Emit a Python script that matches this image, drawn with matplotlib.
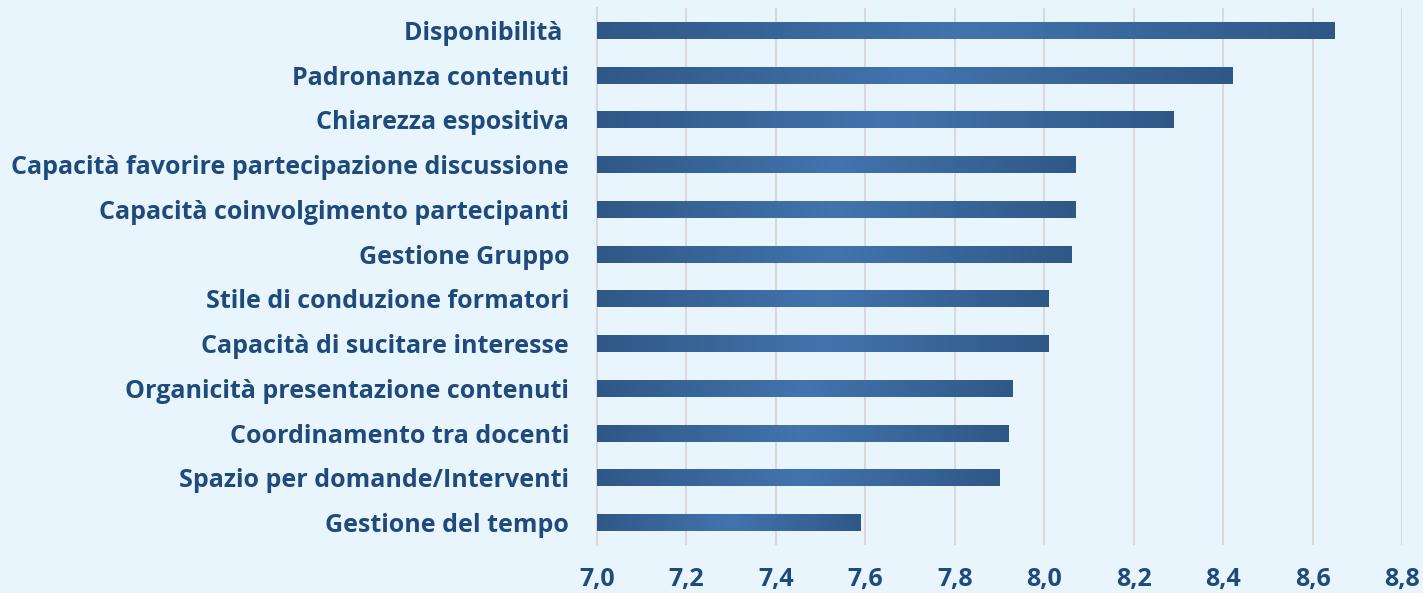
import matplotlib
import matplotlib.pyplot as plt
import numpy as np
from matplotlib.colors import LinearSegmentedColormap
from matplotlib.ticker import FuncFormatter

matplotlib.use('Agg')

categories = [
    "Disponibilità ",
    "Padronanza contenuti",
    "Chiarezza espositiva",
    "Capacità favorire partecipazione discussione",
    "Capacità coinvolgimento partecipanti",
    "Gestione Gruppo",
    "Stile di conduzione formatori",
    "Capacità di sucitare interesse",
    "Organicità presentazione contenuti",
    "Coordinamento tra docenti",
    "Spazio per domande/Interventi",
    "Gestione del tempo",
]
values = [8.65, 8.42, 8.29, 8.07, 8.07, 8.06, 8.01, 8.01, 7.93, 7.92, 7.90, 7.59]
x_ticks = [7.0, 7.2, 7.4, 7.6, 7.8, 8.0, 8.2, 8.4, 8.6, 8.8]

bg = '#E9F5FD'
text_color = '#1F4A7C'
grid_color = '#D9D9D9'
bar_cmap = LinearSegmentedColormap.from_list('bar', ['#2F5886', '#4374AE', '#2F5886'])

plt.rcParams['font.family'] = ['Open Sans', 'DejaVu Sans']

fig = plt.figure(figsize=(14.23, 5.93), dpi=100, facecolor=bg)
ax = fig.add_axes([597 / 1423, 48 / 593, 805 / 1423, 537 / 593], facecolor=bg)

y = np.arange(len(categories))[::-1]
bars = ax.barh(y, [v - 7.0 for v in values], left=7.0, height=0.38, color='none', zorder=3)

# each bar gets its own dark-light-dark gradient
gradient = np.linspace(0, 1, 256).reshape(1, -1)
for bar in bars:
    x0, y0 = bar.get_x(), bar.get_y()
    im = ax.imshow(gradient, extent=[x0, x0 + bar.get_width(), y0, y0 + bar.get_height()],
                   aspect='auto', cmap=bar_cmap, zorder=3, origin='lower')
    im.set_clip_path(bar)

ax.set_xlim(7.0, 8.8)
ax.set_ylim(-0.5, len(categories) - 0.5)
ax.set_xticks(x_ticks)
ax.xaxis.set_major_formatter(FuncFormatter(lambda v, p: f"{v:.1f}".replace('.', ',')))
ax.set_yticks(y)
ax.set_yticklabels(categories)

ax.grid(axis='x', color=grid_color, linewidth=1.5, zorder=0)
ax.set_axisbelow(True)
for side in ['top', 'right', 'bottom']:
    ax.spines[side].set_visible(False)
ax.spines['left'].set_color(grid_color)
ax.spines['left'].set_linewidth(1.5)

ax.tick_params(axis='both', length=0, colors=text_color, labelsize=18)
ax.tick_params(axis='y', pad=20)
ax.tick_params(axis='x', pad=16)
for lbl in ax.get_xticklabels() + ax.get_yticklabels():
    lbl.set_fontweight('bold')
    lbl.set_color(text_color)

plt.savefig('out.png', dpi=100, facecolor=bg)
plt.close()
